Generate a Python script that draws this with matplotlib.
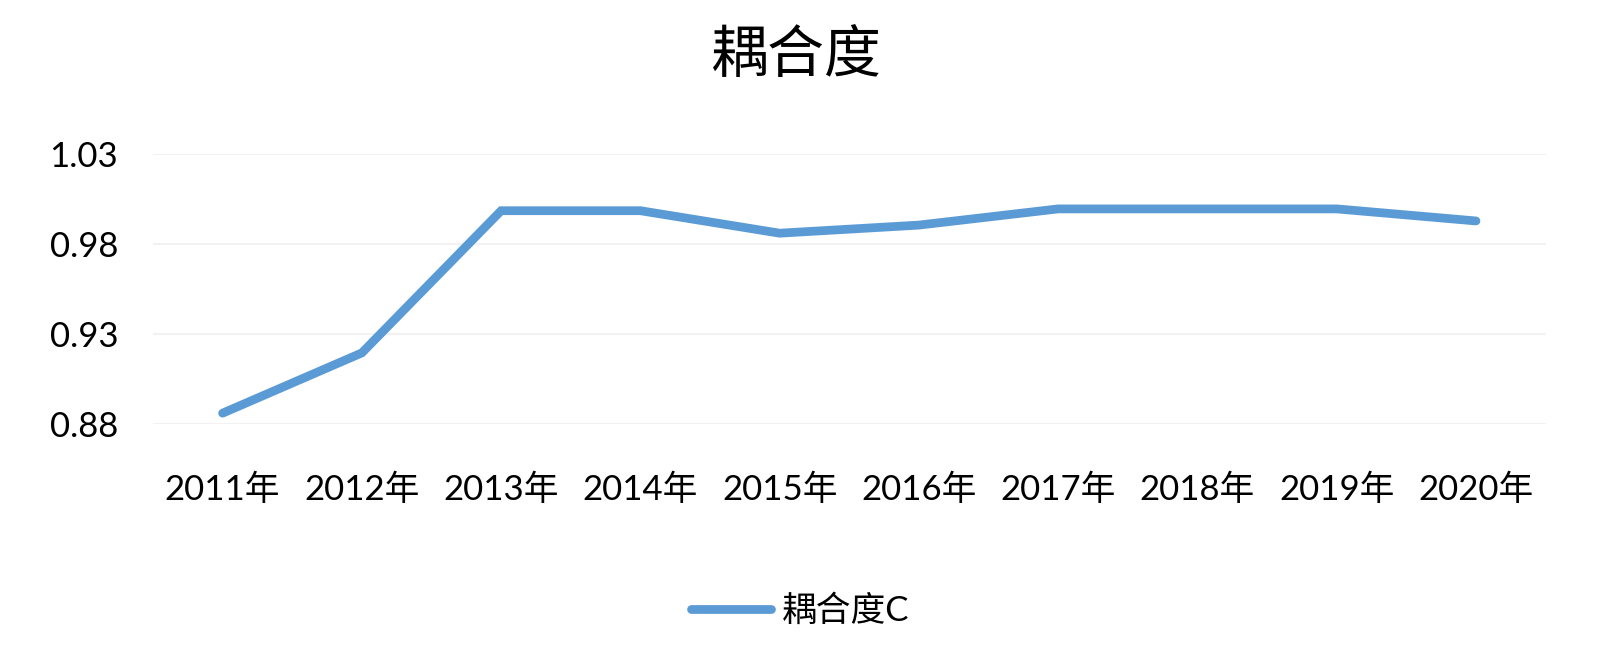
import matplotlib
matplotlib.use("Agg")
import matplotlib.pyplot as plt

plt.rcParams['font.family'] = ['Lato', 'Noto Sans CJK SC', 'DejaVu Sans']

# data
years = ['2011年', '2012年', '2013年', '2014年', '2015年',
         '2016年', '2017年', '2018年', '2019年', '2020年']
coupling = [0.886, 0.9195, 0.9985, 0.9985, 0.986,
            0.9905, 0.9995, 0.9995, 0.9995, 0.9928]
yticks = [0.88, 0.93, 0.98, 1.03]

fig = plt.figure(figsize=(16, 6.46), dpi=100)
ax = fig.add_axes([0.0956, 0.3437, 0.8704, 0.4179])

ax.plot(range(len(years)), coupling, color='#5B9BD5', linewidth=6.3,
        solid_capstyle='round', solid_joinstyle='miter', label='耦合度C')

ax.set_xlim(-0.5, len(years) - 0.5)
ax.set_ylim(0.88, 1.03)
ax.set_yticks(yticks)
ax.set_yticklabels(['%.2f' % v for v in yticks])
ax.set_xticks(range(len(years)))
ax.set_xticklabels(years)
ax.tick_params(axis='both', length=0, labelsize=25, colors='black')
ax.tick_params(axis='x', pad=36)
ax.tick_params(axis='y', pad=25)
ax.grid(axis='y', color='#F2F2F2', linewidth=1.5)
ax.set_axisbelow(True)
for s in ax.spines.values():
    s.set_visible(False)

fig.text(0.4975, 0.913, '耦合度', ha='center', va='center', fontsize=41,
         family=['Noto Sans CJK SC'])

leg = fig.legend(loc='center', bbox_to_anchor=(0.5, 0.055), frameon=False,
                 fontsize=25, handlelength=2.3, handletextpad=0.3)

fig.savefig('out.png', dpi=100)
